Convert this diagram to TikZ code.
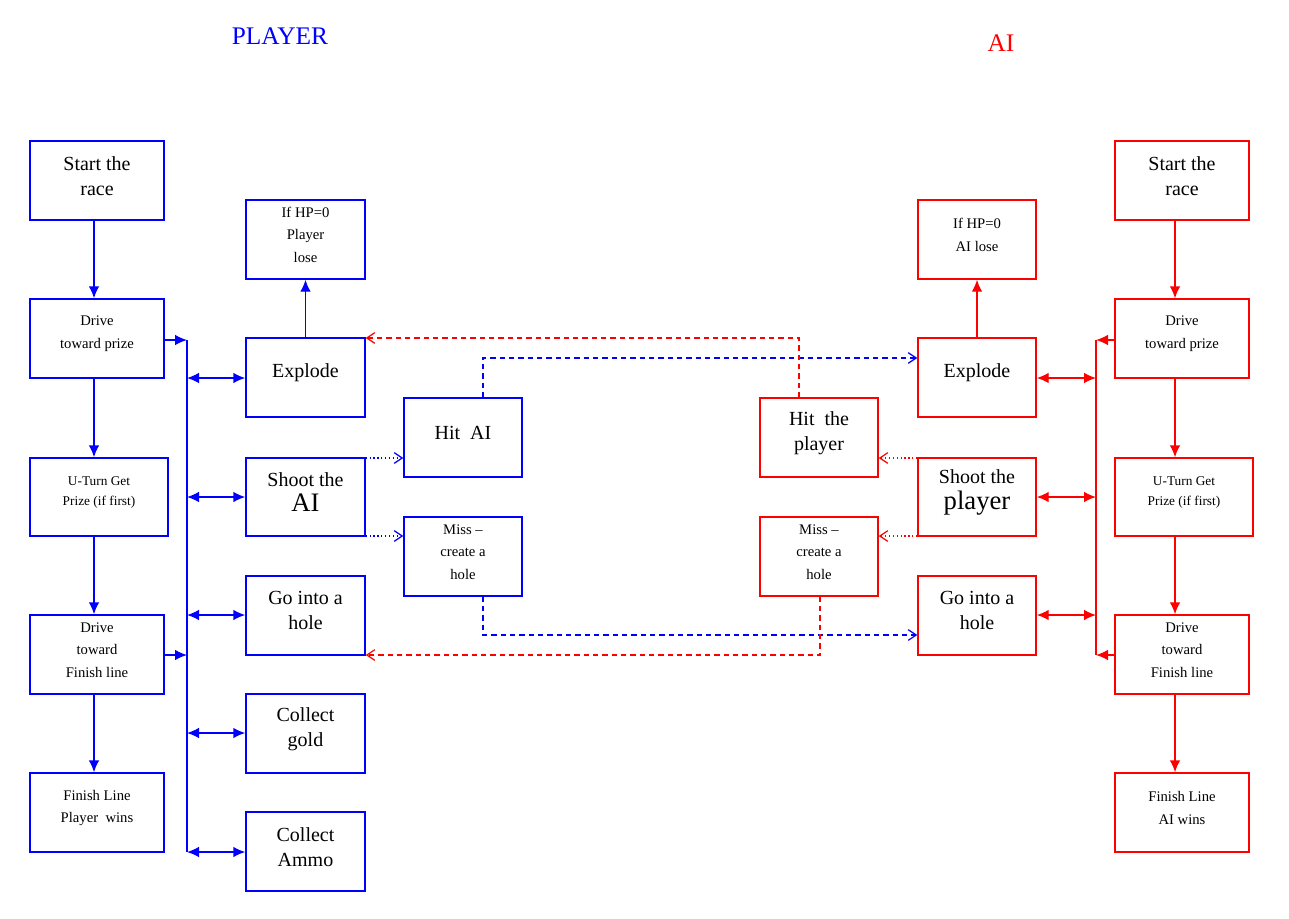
\documentclass[tikz,border=0pt]{standalone}
\usepackage{fontspec}
\setmainfont{Liberation Serif}
\usetikzlibrary{arrows.meta}
\definecolor{bl}{RGB}{0,0,255}
\definecolor{rd}{RGB}{255,0,0}
\newcommand\bx[8]{% colour, name, x1,y1,x2,y2, font, text
\node[box,draw=#1,minimum width={(#5-#3)*0.75pt},minimum height={(#6-#4)*0.75pt},
 path picture={\node[anchor=north,align=center,text=black,inner sep=0pt,font=#7] at ([yshift=4pt]path picture bounding box.north) {#8};}]
 (#2) at ({(#3+#5)/2},{(#4+#6)/2}) {};}
\newcommand\Lf{\fontsize{15}{18.8}\selectfont}
\newcommand\Sf{\fontsize{11}{17}\selectfont}
\newcommand\Tf{\fontsize{10}{15}\selectfont}
\begin{document}
\begin{tikzpicture}[x=0.75pt,y=-0.75pt,
 box/.style={line width=1.1pt,inner sep=0pt},
 ar/.style={line width=1.1pt,-{Latex[length=9pt,width=8pt]}},
 dar/.style={line width=1.1pt,{Latex[length=9pt,width=8pt]}-{Latex[length=9pt,width=8pt]}},
 da/.style={line width=0.9pt,dash pattern=on 4pt off 3pt,-{Straight Barb[length=6pt,width=8pt]}},
 do/.style={line width=0.9pt,dotted,-{Straight Barb[length=6pt,width=8pt]}}]
\useasboundingbox (0,0) rectangle (1289,918);
\node[text=bl,font=\fontsize{19}{22}\selectfont] (tp) at (280,36) {PLAYER};
\node[text=rd,font=\fontsize{19}{22}\selectfont] (ta) at (1001,43) {AI};
% left column
\bx{bl}{ls}{30}{141}{164}{220}{\Lf}{Start the\\race}
\bx{bl}{ld}{30}{299}{164}{378}{\Sf}{Drive\\toward prize}
\bx{bl}{lu}{30}{458}{168}{536}{\Tf}{U-Turn Get\\Prize (if first)}
\bx{bl}{lf}{30}{615}{164}{694}{\Sf}{Drive\\toward\\Finish line}
\bx{bl}{lw}{30}{773}{164}{852}{\Sf}{Finish Line\\Player\ \ wins}
% left column 2
\bx{bl}{lh}{246}{200}{365}{279}{\Sf}{If HP=0\\Player\\lose}
\bx{bl}{le}{246}{338}{365}{417}{\Lf}{Explode}
\bx{bl}{lsh}{246}{458}{365}{536}{\Lf}{Shoot the\\{\fontsize{20}{18.8}\selectfont AI}}
\bx{bl}{lg}{246}{576}{365}{655}{\Lf}{Go into a\\hole}
\bx{bl}{lc}{246}{694}{365}{773}{\Lf}{Collect\\gold}
\bx{bl}{la}{246}{812}{365}{891}{\Lf}{Collect\\Ammo}
\bx{bl}{hai}{404}{398}{522}{477}{\Lf}{Hit\ \ AI}
\bx{bl}{mi}{404}{517}{522}{596}{\Sf}{Miss --\\create a\\hole}
% right
\bx{rd}{hp}{760}{398}{878}{477}{\Lf}{Hit\ \ the\\player}
\bx{rd}{mr}{760}{517}{878}{596}{\Sf}{Miss --\\create a\\hole}
\bx{rd}{rh}{918}{200}{1036}{279}{\Sf}{If HP=0\\AI lose}
\bx{rd}{re}{918}{338}{1036}{417}{\Lf}{Explode}
\bx{rd}{rsh}{918}{458}{1036}{536}{\Lf}{Shoot the\\{\fontsize{20}{18.8}\selectfont player}}
\bx{rd}{rg}{918}{576}{1036}{655}{\Lf}{Go into a\\hole}
\bx{rd}{rs}{1115}{141}{1249}{220}{\Lf}{Start the\\race}
\bx{rd}{rd1}{1115}{299}{1249}{378}{\Sf}{Drive\\toward prize}
\bx{rd}{ru}{1115}{458}{1253}{536}{\Tf}{U-Turn Get\\Prize (if first)}
\bx{rd}{rf}{1115}{615}{1249}{694}{\Sf}{Drive\\toward\\Finish line}
\bx{rd}{rw}{1115}{773}{1249}{852}{\Sf}{Finish Line\\AI wins}
% left flow
\begin{scope}[draw=bl,color=bl]
\draw[ar] (ls.south -| 94,0) -- (ld.north -| 94,0);
\draw[ar] (ld.south -| 94,0) -- (lu.north -| 94,0);
\draw[ar] (lu.south -| 94,0) -- (lf.north -| 94,0);
\draw[ar] (lf.south -| 94,0) -- (lw.north -| 94,0);
\coordinate (bt) at (187,340); \coordinate (bb) at (187,852);
\draw[line width=1.1pt] (bt) -- (bb);
\draw[ar] (ld.east |- 0,340) -- (bt);
\draw[ar] (lf.east |- 0,655) -- (187,655);
\foreach \n/\y in {le/378,lsh/497,lg/615,lc/733,la/852}
  \draw[dar] (187,\y) -- (\n.west |- 0,\y);
\draw[ar] (le.north) -- (lh.south);
\draw[do] (lsh.east |- 0,458) -- (hai.west |- 0,458);
\draw[do] (lsh.east |- 0,536) -- (mi.west |- 0,536);
\draw[da] (hai.north -| 483,0) -- (483,358) -- (re.west |- 0,358);
\draw[da] (mi.south -| 483,0) -- (483,635) -- (rg.west |- 0,635);
\end{scope}
% right flow
\begin{scope}[draw=rd,color=rd]
\draw[ar] (rs.south -| 1175,0) -- (rd1.north -| 1175,0);
\draw[ar] (rd1.south -| 1175,0) -- (ru.north -| 1175,0);
\draw[ar] (ru.south -| 1175,0) -- (rf.north -| 1175,0);
\draw[ar] (rf.south -| 1175,0) -- (rw.north -| 1175,0);
\coordinate (ct) at (1096,340); \coordinate (cb) at (1096,655);
\draw[line width=1.1pt] (ct) -- (cb);
\draw[ar] (rd1.west |- 0,340) -- (ct);
\draw[ar] (rf.west |- 0,655) -- (cb);
\foreach \n/\y in {re/378,rsh/497,rg/615}
  \draw[dar] (1096,\y) -- (\n.east |- 0,\y);
\draw[ar] (re.north) -- (rh.south);
\draw[do] (rsh.west |- 0,458) -- (hp.east |- 0,458);
\draw[do] (rsh.west |- 0,536) -- (mr.east |- 0,536);
\draw[da] (hp.north -| 799,0) -- (799,338) -- (le.east |- 0,338);
\draw[da] (mr.south -| 820,0) -- (820,655) -- (lg.east |- 0,655);
\end{scope}
\end{tikzpicture}
\end{document}
